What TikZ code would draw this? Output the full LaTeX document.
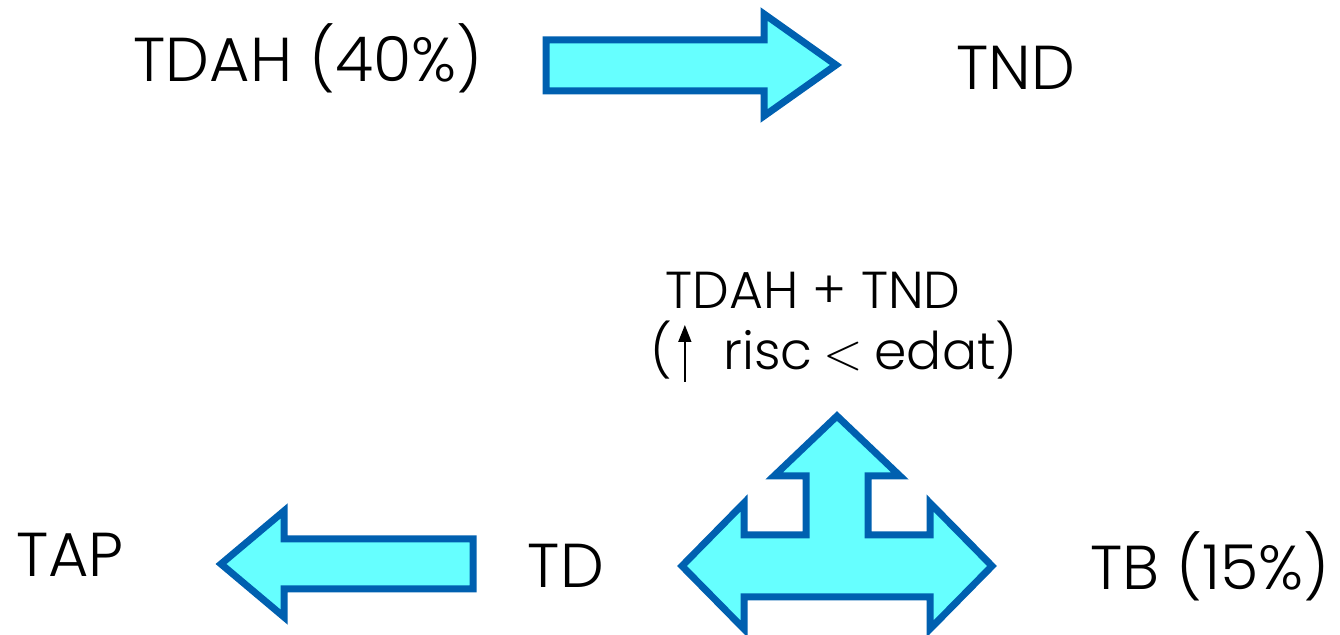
\documentclass[tikz,border=0pt]{standalone}
\usepackage{fix-cm}
\usepackage{fontspec}
\setmainfont{Poppins}[UprightFont={* Light}]
\usetikzlibrary{arrows.meta}
\definecolor{arrowfill}{RGB}{102,255,255}
\definecolor{arrowline}{RGB}{0,96,176}
% thin upward arrow used inside running text
\newcommand{\uparrowglyph}{\tikz[baseline=0pt]\draw[line width=0.8pt,
  -{Triangle[width=6.5pt,length=8.5pt]}] (0pt,-6pt) -- (0pt,22.5pt);}
\begin{document}
\begin{tikzpicture}[x=0.5pt,y=-0.5pt,
  blockarrow/.style={fill=arrowfill,draw=arrowline,line width=3.5pt,line join=miter},
  lbl/.style={inner sep=0pt,anchor=base,font=\fontsize{31}{36}\selectfont},
  smalllbl/.style={inner sep=0pt,anchor=base,font=\fontsize{26}{30}\selectfont}]
\useasboundingbox (0,0) rectangle (1340,635);

% block arrows
\draw[blockarrow] (546,40) -- (764,40) -- (764,14) -- (836,65) -- (764,116)
  -- (764,91) -- (546,91) -- cycle;
\draw[blockarrow] (473,539) -- (284,539) -- (284,511) -- (221,564) -- (284,617)
  -- (284,589) -- (473,589) -- cycle;
\draw[blockarrow] (682,566) -- (744,503) -- (744,535) -- (806,535) -- (806,476)
  -- (774,476) -- (837,416) -- (900,476) -- (868,476) -- (868,535) -- (930,535)
  -- (930,503) -- (992,566) -- (930,629) -- (930,597) -- (744,597) -- (744,629) -- cycle;

% labels
\node[lbl] (tdah) at (308,82) {TDAH (40\%)};
\node[lbl] (tnd) at (1016,90) {TND};
\node[smalllbl] (both) at (813,309) {TDAH + TND};
\node[smalllbl] (risk) at (834,370) {(\hspace{3pt}\uparrowglyph\hspace{16pt}risc\hspace{-1.5pt} $<$ \hspace{-1.5pt}edat)};
\node[lbl] (tap) at (70,577) {TAP};
\node[lbl] (td) at (566,588) {TD};
\node[lbl] (tb) at (1210,590) {TB (15\%)};
\end{tikzpicture}
\end{document}
